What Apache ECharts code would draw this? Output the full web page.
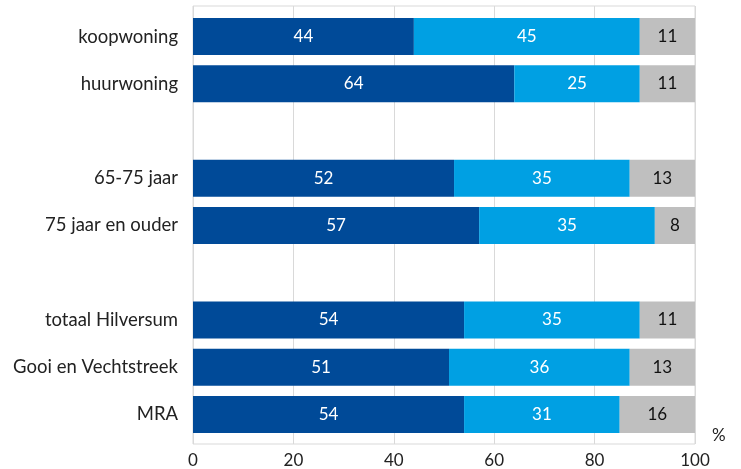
<!DOCTYPE html>
<html>
<head>
<meta charset="utf-8">
<script src="https://cdn.jsdelivr.net/npm/echarts@6/dist/echarts.min.js"></script>
<style>html,body{margin:0;padding:0;background:#fff}#c{width:741px;height:469px}</style>
</head>
<body>
<div id="c"></div>
<script>
const categories = ['koopwoning', 'huurwoning', '', '65-75 jaar', '75 jaar en ouder', '', 'totaal Hilversum', 'Gooi en Vechtstreek', 'MRA'];
const seriesA = [44, 64, null, 52, 57, null, 54, 51, 54];
const seriesB = [45, 25, null, 35, 35, null, 35, 36, 31];
const seriesC = [11, 11, null, 13, 8, null, 11, 13, 16];
const xTicks = [0, 20, 40, 60, 80, 100];

const FONT = 'Lato, "Open Sans", sans-serif';
const chart = echarts.init(document.getElementById('c'), null, {renderer: 'canvas'});

function mk(name, data, color, labelColor) {
  return {
    name: name, type: 'bar', stack: 'all', data: data,
    xAxisIndex: 1, yAxisIndex: 1, barWidth: 37,
    itemStyle: {color: color},
    label: {
      show: true, position: 'inside', color: labelColor,
      fontFamily: FONT, fontSize: 17,
      formatter: p => (p.value == null ? '' : String(p.value))
    }
  };
}

chart.setOption({
  animation: false,
  grid: [
    {left: 193, right: 46, top: 6, bottom: 24, show: true, borderColor: '#d9d9d9', borderWidth: 1, backgroundColor: 'transparent'},
    {left: 193, right: 46, top: 13, bottom: 31}
  ],
  xAxis: [
    {gridIndex: 0, type: 'value', min: 0, max: 100, interval: 20,
     axisLine: {show: false}, axisTick: {show: false},
     splitLine: {show: true, lineStyle: {color: '#d9d9d9', width: 1}},
     axisLabel: {fontFamily: FONT, fontSize: 17, color: '#222', margin: 8,
                 formatter: v => xTicks.indexOf(v) >= 0 ? String(v) : ''}},
    {gridIndex: 1, type: 'value', min: 0, max: 100, show: false}
  ],
  yAxis: [
    {gridIndex: 0, type: 'category', data: categories, show: false},
    {gridIndex: 1, type: 'category', data: categories, inverse: true,
     axisLine: {show: false}, axisTick: {show: false}, splitLine: {show: false},
     axisLabel: {fontFamily: FONT, fontSize: 18.5, color: '#222', margin: 15}}
  ],
  series: [
    mk('a', seriesA, '#004a98', '#ffffff'),
    mk('b', seriesB, '#00a0e3', '#ffffff'),
    mk('c', seriesC, '#bfbfbf', '#111111')
  ],
  graphic: [
    {type: 'text', left: 712, top: 427, style: {text: '%', font: '17px ' + FONT, fill: '#222'}}
  ]
});
</script>
</body>
</html>
